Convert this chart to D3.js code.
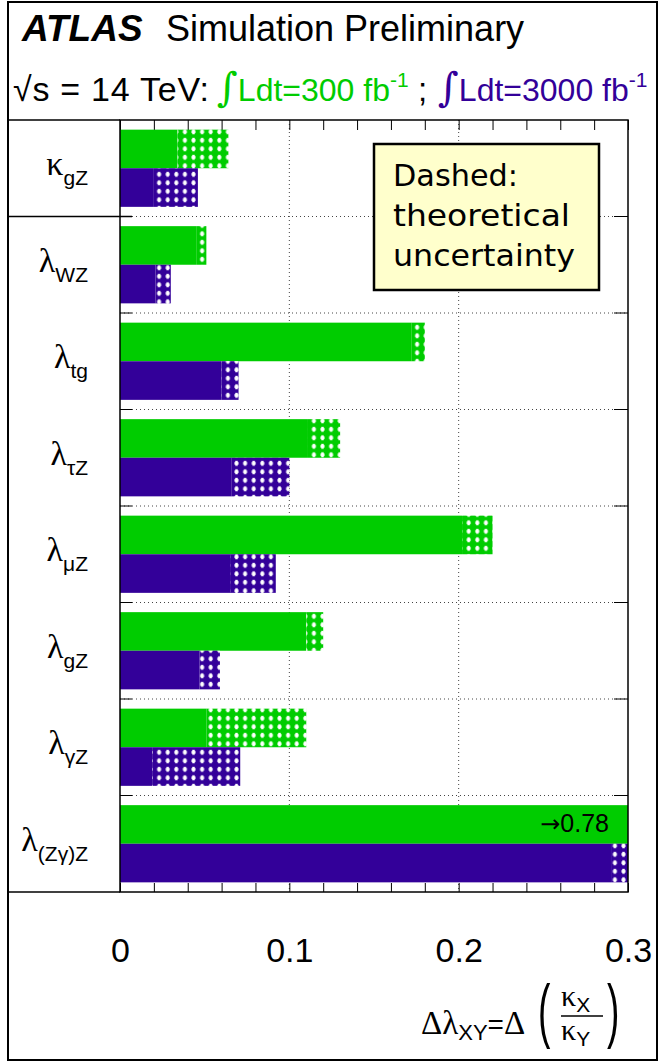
<!DOCTYPE html>
<html>
<head>
  <meta charset="utf-8">
  <title>ATLAS coupling ratio projections</title>
  <script src="https://d3js.org/d3.v7.min.js"></script>
  <style>
    body { margin: 0; background: white; }
    svg { display: block; }
  </style>
</head>
<body>
  <div id="chart"></div>
  <script>
    // Row labels (top to bottom): greek symbol + subscript
    var symbols = ["κ", "λ", "λ", "λ", "λ", "λ", "λ", "λ"];
    var subscripts = ["gZ", "WZ", "tg", "τZ", "μZ", "gZ", "γZ", "(Zγ)Z"];

    // 300 fb-1 : experimental-only (solid) and total incl. theory (dashed end)
    var exp300 = [0.034, 0.045, 0.172, 0.111, 0.202, 0.110, 0.051, 0.78];
    var tot300 = [0.064, 0.051, 0.180, 0.130, 0.220, 0.120, 0.110, 0.78];
    // 3000 fb-1
    var exp3000 = [0.020, 0.021, 0.060, 0.066, 0.065, 0.047, 0.019, 0.290];
    var tot3000 = [0.046, 0.030, 0.070, 0.100, 0.092, 0.059, 0.071, 0.300];

    var xTicks = [0, 0.1, 0.2, 0.3];
    var offscale = ["0.78"];

    var green = "#00cc00", purple = "#330099";

    var width = 661, height = 1062;
    var plot = { left: 120, right: 628, top: 120, bottom: 892 };

    var svg = d3.select("#chart").append("svg")
      .attr("width", width).attr("height", height);

    var defs = svg.append("defs");

    // dotted hatch used for the theoretical part
    function makeHatch(id, col) {
      var p = defs.append("pattern")
        .attr("id", id)
        .attr("patternUnits", "userSpaceOnUse")
        .attr("width", 8.6).attr("height", 8.5);
      p.append("rect").attr("width", 8.6).attr("height", 8.5).attr("fill", col);
      p.append("rect").attr("x", 3.1).attr("y", 1.8).attr("width", 2.4).attr("height", 5).attr("fill", "white");
      p.append("rect").attr("x", 2.3).attr("y", 3).attr("width", 4).attr("height", 2.6).attr("fill", "white");
    }
    makeHatch("hatch300", green);
    makeHatch("hatch3000", purple);

    defs.append("clipPath").attr("id", "plotclip")
      .append("rect")
      .attr("x", plot.left).attr("y", plot.top)
      .attr("width", plot.right - plot.left).attr("height", plot.bottom - plot.top);

    var x = d3.scaleLinear().domain([0, 0.3]).range([plot.left, plot.right]);
    var rows = d3.scaleBand().domain(d3.range(symbols.length)).range([plot.top, plot.bottom]);
    var sub = d3.scaleBand().domain(["300", "3000"]).range([0, rows.bandwidth()]).paddingOuter(0.25);

    // grid
    var grid = svg.append("g")
      .attr("stroke", "#444").attr("stroke-width", 1).attr("stroke-dasharray", "1,3");
    grid.selectAll(".vg").data([0.1, 0.2]).enter().append("line")
      .attr("x1", d => x(d)).attr("x2", d => x(d))
      .attr("y1", plot.top).attr("y2", plot.bottom);
    grid.selectAll(".hg").data(d3.range(1, symbols.length)).enter().append("line")
      .attr("x1", plot.left).attr("x2", plot.right)
      .attr("y1", d => rows(d)).attr("y2", d => rows(d));

    // row boundary ticks
    var rt = svg.append("g").attr("stroke", "black").attr("stroke-width", 1);
    d3.range(1, symbols.length).forEach(function (i) {
      rt.append("line").attr("x1", plot.left).attr("x2", plot.left + 12).attr("y1", rows(i)).attr("y2", rows(i));
      rt.append("line").attr("x1", plot.right - 14).attr("x2", plot.right).attr("y1", rows(i)).attr("y2", rows(i));
    });

    // x ticks top and bottom
    var minor = d3.range(0, 0.3001, 0.02);
    var topAx = svg.append("g").attr("transform", "translate(0," + plot.top + ")")
      .call(d3.axisBottom(x).tickValues(minor).tickSize(10).tickFormat(""));
    var botAx = svg.append("g").attr("transform", "translate(0," + plot.bottom + ")")
      .call(d3.axisTop(x).tickValues(minor).tickSize(9).tickFormat(""));
    [topAx, botAx].forEach(function (a) {
      a.select(".domain").remove();
      a.selectAll("line").attr("stroke", "black").attr("stroke-width", 1);
    });

    // bars
    var bars = svg.append("g").attr("clip-path", "url(#plotclip)");
    var series = [
      { key: "300", exp: exp300, tot: tot300, col: green, hatch: "url(#hatch300)" },
      { key: "3000", exp: exp3000, tot: tot3000, col: purple, hatch: "url(#hatch3000)" }
    ];
    series.forEach(function (s) {
      var g = bars.append("g");
      g.selectAll(".solid").data(d3.range(symbols.length)).enter().append("rect")
        .attr("x", x(0))
        .attr("y", i => rows(i) + sub(s.key))
        .attr("width", i => x(s.exp[i]) - x(0))
        .attr("height", sub.bandwidth())
        .attr("fill", s.col);
      g.selectAll(".theo").data(d3.range(symbols.length)).enter().append("rect")
        .attr("x", i => x(s.exp[i]))
        .attr("y", i => rows(i) + sub(s.key))
        .attr("width", i => Math.max(0, x(s.tot[i]) - x(s.exp[i])))
        .attr("height", sub.bandwidth())
        .attr("fill", s.hatch);
    });

    var off = svg.append("text")
      .attr("x", 609).attr("y", rows(7) + sub("300") + sub.bandwidth() / 2 + 8)
      .attr("text-anchor", "end")
      .attr("font-family", "Liberation Sans, Arial, sans-serif")
      .attr("font-size", 25);
    off.append("tspan").attr("font-family", "DejaVu Sans, sans-serif").attr("font-size", 24).text("→");
    off.append("tspan").text(offscale[0]);

    // frames
    var frame = svg.append("g").attr("stroke", "black").attr("fill", "none");
    frame.append("rect").attr("x", 8).attr("y", 2).attr("width", 649).attr("height", 1058).attr("stroke-width", 2);
    frame.append("rect").attr("x", plot.left).attr("y", plot.top)
      .attr("width", plot.right - plot.left).attr("height", plot.bottom - plot.top).attr("stroke-width", 1.5);
    frame.append("line").attr("x1", 8).attr("x2", plot.left).attr("y1", plot.top).attr("y2", plot.top).attr("stroke-width", 1.5);
    frame.append("line").attr("x1", 8).attr("x2", plot.left).attr("y1", plot.bottom).attr("y2", plot.bottom).attr("stroke-width", 1.5);
    frame.append("line").attr("x1", 8).attr("x2", plot.left + 12).attr("y1", rows(1)).attr("y2", rows(1)).attr("stroke-width", 1.5);

    // row labels
    var lab = svg.append("g").attr("text-anchor", "end");
    symbols.forEach(function (s, i) {
      var cy = rows(i) + rows.bandwidth() / 2;
      var t = lab.append("text").attr("x", 88).attr("y", cy + 7);
      t.append("tspan").attr("font-family", "Liberation Serif, serif").attr("font-size", 34).text(s);
      t.append("tspan").attr("font-family", "Liberation Sans, Arial, sans-serif").attr("font-size", 21)
        .attr("dy", 10).text(subscripts[i]);
    });

    // x labels
    var lbl = svg.append("g").attr("transform", "translate(0," + plot.bottom + ")")
      .call(d3.axisBottom(x).tickValues(xTicks).tickSize(0).tickPadding(46).tickFormat(d3.format("")));
    lbl.select(".domain").remove();
    lbl.selectAll("text").attr("font-family", "Liberation Sans, Arial, sans-serif").attr("font-size", 34).attr("fill", "black");

    // x axis title
    var tt = svg.append("g").attr("font-family", "Liberation Sans, Arial, sans-serif");
    var t1 = tt.append("text").attr("x", 421).attr("y", 1034);
    t1.append("tspan").attr("font-family", "Liberation Serif, serif").attr("font-size", 33).text("Δλ");
    t1.append("tspan").attr("font-size", 22).attr("dy", 6).text("XY");
    t1.append("tspan").attr("font-size", 28).attr("dy", -6).text("=");
    t1.append("tspan").attr("font-family", "Liberation Serif, serif").attr("font-size", 33).text("Δ");
    tt.append("text").attr("x", 538).attr("y", 1034).attr("font-size", 62)
      .attr("transform", "translate(538,1034) scale(0.6,1.15) translate(-538,-1034)").text("(");
    tt.append("text").attr("x", 607).attr("y", 1034).attr("font-size", 62)
      .attr("transform", "translate(607,1034) scale(0.6,1.15) translate(-607,-1034)").text(")");
    var fx = tt.append("text").attr("x", 561).attr("y", 1006);
    fx.append("tspan").attr("font-family", "Liberation Serif, serif").attr("font-size", 30).text("κ");
    fx.append("tspan").attr("font-size", 21).attr("dy", 6).text("X");
    tt.append("line").attr("x1", 561).attr("x2", 603).attr("y1", 1016).attr("y2", 1016).attr("stroke", "black").attr("stroke-width", 1.5);
    var fy = tt.append("text").attr("x", 561).attr("y", 1040);
    fy.append("tspan").attr("font-family", "Liberation Serif, serif").attr("font-size", 30).text("κ");
    fy.append("tspan").attr("font-size", 21).attr("dy", 6).text("Y");

    // header
    var hdr = svg.append("g").attr("font-family", "Liberation Sans, Arial, sans-serif");
    hdr.append("text").attr("x", 22).attr("y", 41).attr("font-size", 37)
      .attr("font-weight", "bold").attr("font-style", "italic").text("ATLAS");
    hdr.append("text").attr("x", 166).attr("y", 41).attr("font-size", 36).text("Simulation Preliminary");

    hdr.append("text").attr("x", 13).attr("y", 101).attr("font-size", 34)
      .attr("textLength", 196).attr("lengthAdjust", "spacing").text("√s = 14 TeV:");
    var lumi = [
      { x: 217, text: "Ldt=300 fb", col: green },
      { x: 438, text: "Ldt=3000 fb", col: purple }
    ];
    lumi.forEach(function (l) {
      var t = hdr.append("text").attr("x", l.x).attr("y", 101).attr("fill", l.col).attr("font-size", 32);
      t.append("tspan").attr("font-family", "DejaVu Serif, serif").attr("font-size", 40).text("∫");
      t.append("tspan").text(l.text);
      t.append("tspan").attr("font-size", 21).attr("dy", -14).text("-1");
    });
    hdr.append("text").attr("x", 418).attr("y", 101).attr("font-size", 33).text(";");

    // legend note box
    var box = svg.append("g");
    box.append("rect").attr("x", 374).attr("y", 144).attr("width", 225).attr("height", 146)
      .attr("fill", "#ffffcc").attr("stroke", "black").attr("stroke-width", 2.5);
    var note = ["Dashed:", "theoretical", "uncertainty"];
    var noteW = [125, 177, 182];
    box.selectAll(".note").data(note).enter().append("text")
      .attr("x", 393)
      .attr("y", (d, i) => 186 + i * 40)
      .attr("font-family", "DejaVu Sans, sans-serif")
      .attr("font-size", 30)
      .attr("textLength", (d, i) => noteW[i])
      .attr("lengthAdjust", "spacingAndGlyphs")
      .text(d => d);
  </script>
</body>
</html>
